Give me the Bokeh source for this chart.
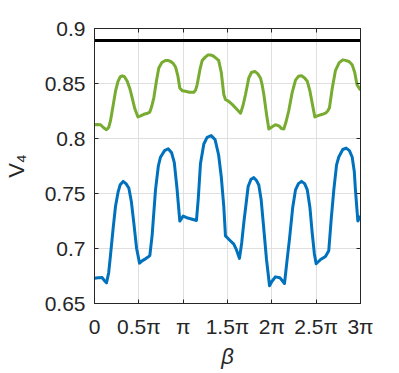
import numpy as np
from bokeh.plotting import figure
from bokeh.models import FixedTicker, LinearAxis, Range1d
from bokeh.embed import file_html
from bokeh.resources import INLINE

# x values in units of pi
green_x = [0.0, 0.03, 0.068, 0.10, 0.135, 0.16, 0.18, 0.21, 0.237, 0.265, 0.29, 0.312, 0.34, 0.369, 0.40, 0.425,
           0.455, 0.49, 0.52, 0.556, 0.60, 0.624, 0.645, 0.669, 0.70, 0.725, 0.76, 0.80, 0.827, 0.86, 0.89, 0.914,
           0.94, 0.962, 0.99, 1.026, 1.07, 1.12, 1.14, 1.158, 1.19, 1.215, 1.25, 1.28, 1.308, 1.34, 1.37, 1.40,
           1.43, 1.458, 1.477, 1.51, 1.553, 1.60, 1.647, 1.675, 1.703, 1.74, 1.77, 1.808, 1.84, 1.872, 1.89, 1.91,
           1.94, 1.966, 2.00, 2.04, 2.08, 2.11, 2.135, 2.16, 2.19, 2.23, 2.267, 2.30, 2.335, 2.37, 2.40, 2.43,
           2.46, 2.485, 2.53, 2.57, 2.605, 2.63, 2.65, 2.68, 2.718, 2.76, 2.80, 2.83, 2.87, 2.906, 2.935, 2.96, 3.0]
green_y = [0.8125, 0.8128, 0.8125, 0.810, 0.808, 0.810, 0.816, 0.830, 0.843, 0.852, 0.856, 0.857, 0.856, 0.852,
           0.845, 0.837, 0.827, 0.8196, 0.8205, 0.822, 0.823, 0.824, 0.829, 0.837, 0.853, 0.864, 0.869, 0.871,
           0.871, 0.870, 0.868, 0.865, 0.857, 0.846, 0.8435, 0.843, 0.842, 0.842, 0.844, 0.849, 0.863, 0.871,
           0.874, 0.876, 0.876, 0.875, 0.873, 0.871, 0.860, 0.840, 0.8355, 0.834, 0.831, 0.827, 0.823, 0.830,
           0.840, 0.855, 0.860, 0.861, 0.859, 0.855, 0.849, 0.840, 0.822, 0.8086, 0.8105, 0.8125, 0.8115, 0.809,
           0.8086, 0.815, 0.825, 0.842, 0.853, 0.8565, 0.857, 0.855, 0.852, 0.843, 0.830, 0.8196, 0.821, 0.822,
           0.823, 0.825, 0.828, 0.845, 0.862, 0.869, 0.8715, 0.871, 0.870, 0.867, 0.860, 0.849, 0.844]

blue_x = [0.0, 0.04, 0.087, 0.11, 0.135, 0.16, 0.18, 0.21, 0.237, 0.265, 0.29, 0.323, 0.355, 0.387, 0.415, 0.443,
          0.475, 0.508, 0.54, 0.575, 0.60, 0.624, 0.65, 0.688, 0.72, 0.744, 0.79, 0.831, 0.87, 0.90, 0.93, 0.962,
          0.98, 1.0, 1.04, 1.083, 1.15, 1.17, 1.195, 1.233, 1.27, 1.316, 1.36, 1.40, 1.43, 1.458, 1.477, 1.52,
          1.571, 1.60, 1.635, 1.66, 1.684, 1.733, 1.765, 1.797, 1.825, 1.853, 1.88, 1.903, 1.94, 1.974, 2.0, 2.04,
          2.09, 2.143, 2.17, 2.199, 2.235, 2.267, 2.30, 2.335, 2.37, 2.40, 2.43, 2.455, 2.48, 2.50, 2.55, 2.605,
          2.642, 2.67, 2.699, 2.73, 2.755, 2.80, 2.838, 2.875, 2.906, 2.93, 2.943, 2.97, 3.0]
blue_y = [0.673, 0.6735, 0.6736, 0.671, 0.6688, 0.678, 0.6936, 0.718, 0.7384, 0.751, 0.758, 0.761, 0.759, 0.755,
          0.743, 0.7235, 0.700, 0.6867, 0.689, 0.6906, 0.692, 0.6936, 0.712, 0.7533, 0.775, 0.783, 0.789, 0.7907,
          0.787, 0.778, 0.755, 0.725, 0.727, 0.7295, 0.728, 0.727, 0.7255, 0.745, 0.777, 0.795, 0.801, 0.8026,
          0.799, 0.785, 0.765, 0.7384, 0.7115, 0.708, 0.704, 0.699, 0.691, 0.705, 0.7235, 0.7564, 0.763, 0.7644,
          0.762, 0.7578, 0.744, 0.7235, 0.690, 0.6661, 0.670, 0.6742, 0.6735, 0.6682, 0.688, 0.7085, 0.737,
          0.7533, 0.759, 0.761, 0.759, 0.7533, 0.737, 0.7145, 0.695, 0.6861, 0.690, 0.6928, 0.698, 0.727, 0.7533,
          0.776, 0.7832, 0.790, 0.7913, 0.789, 0.7832, 0.770, 0.7533, 0.725, 0.7295]

ref_x = [0.0, 3.0]
ref_y = [0.889, 0.889]

x_ticks = [0, 0.5, 1, 1.5, 2, 2.5, 3]
x_labels = ["0", "0.5π", "π", "1.5π", "2π", "2.5π", "3π"]
y_ticks = [0.65, 0.7, 0.75, 0.8, 0.85, 0.9]
y_labels = ["0.65", "0.7", "0.75", "0.8", "0.85", "0.9"]

PI = np.pi
FONT = "Liberation Sans"
DARK = "#262626"

p = figure(width=391, height=371, x_range=Range1d(0, 3 * PI), y_range=Range1d(0.65, 0.9),
           output_backend="svg", toolbar_location=None,
           min_border_left=94, min_border_right=31, min_border_top=28, min_border_bottom=64)
p.outline_line_color = DARK
p.outline_line_width = 1
p.background_fill_color = "white"
p.border_fill_color = "white"

p.line([v * PI for v in ref_x], ref_y, line_color="black", line_width=3)
p.line([v * PI for v in green_x], green_y, line_color="#77AC30", line_width=3, line_join="round")
p.line([v * PI for v in blue_x], blue_y, line_color="#0072BD", line_width=3, line_join="round")

xt = [v * PI for v in x_ticks]
p.xaxis.ticker = FixedTicker(ticks=xt)
p.xaxis.major_label_overrides = {t: l for t, l in zip(xt, x_labels)}
p.yaxis.ticker = FixedTicker(ticks=y_ticks)
p.yaxis.major_label_overrides = {t: l for t, l in zip(y_ticks, y_labels)}

for ax in [p.xaxis[0], p.yaxis[0]]:
    ax.major_tick_in = 4
    ax.major_tick_out = 0
    ax.minor_tick_line_color = None
    ax.axis_line_color = DARK
    ax.major_tick_line_color = DARK
    ax.major_label_text_font = FONT
    ax.major_label_text_font_size = "21px"
    ax.major_label_text_color = DARK
    ax.axis_label_text_font = FONT
    ax.axis_label_text_font_size = "22px"
    ax.axis_label_text_font_style = "normal"
    ax.axis_label_text_color = DARK

p.xaxis.major_label_standoff = 11
p.yaxis.major_label_standoff = 9
p.xaxis.axis_label = "β"
p.xaxis.axis_label_text_font_style = "italic"
p.xaxis.axis_label_standoff = 3
p.yaxis.axis_label = "V₄"
p.yaxis.axis_label_standoff = 13

top = LinearAxis(ticker=FixedTicker(ticks=xt), major_tick_in=4, major_tick_out=0,
                 major_label_text_font_size="1px", major_label_text_color=None, major_label_standoff=0,
                 axis_line_color=DARK, major_tick_line_color=DARK, minor_tick_line_color=None)
right = LinearAxis(ticker=FixedTicker(ticks=y_ticks), major_tick_in=4, major_tick_out=0,
                   major_label_text_font_size="1px", major_label_text_color=None, major_label_standoff=0,
                   axis_line_color=DARK, major_tick_line_color=DARK, minor_tick_line_color=None)
p.add_layout(top, "above")
p.add_layout(right, "right")

p.xgrid.ticker = FixedTicker(ticks=xt)
p.ygrid.ticker = FixedTicker(ticks=y_ticks)
p.grid.grid_line_color = "#dfdfdf"
p.grid.grid_line_width = 1

open("out.html", "w").write(file_html(p, INLINE))
